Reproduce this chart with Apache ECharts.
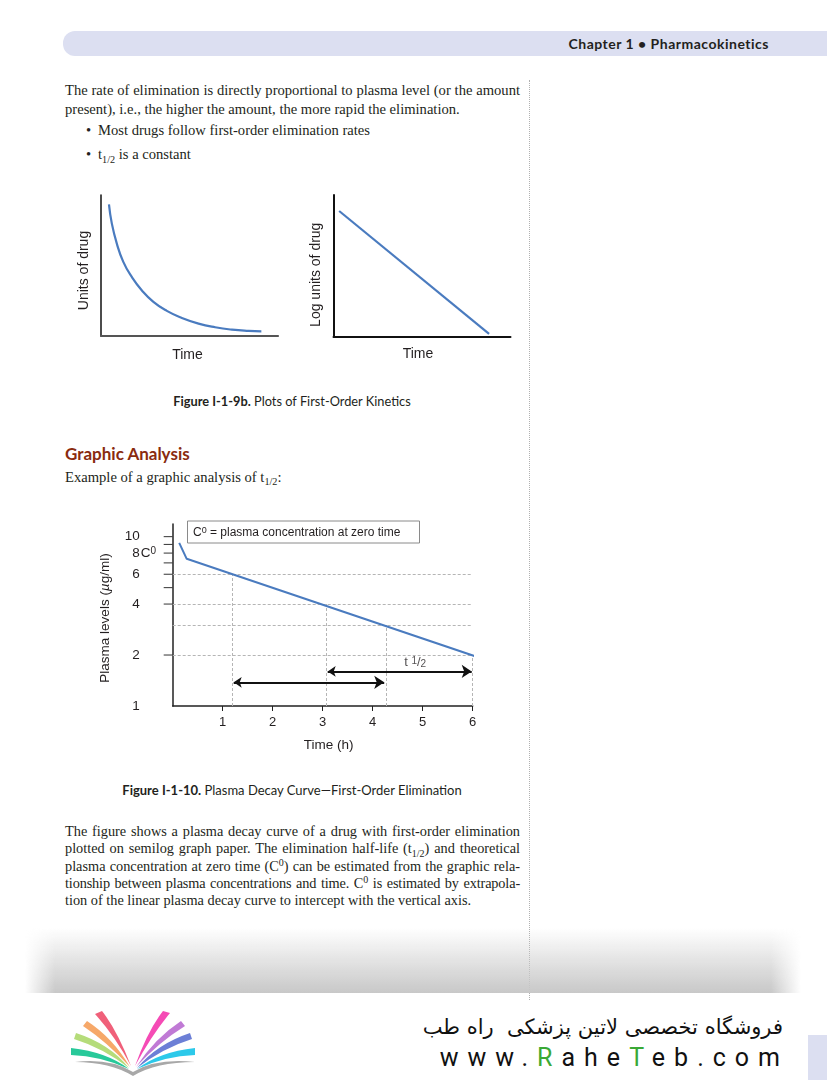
<!DOCTYPE html>
<html>
<head>
<meta charset="utf-8">
<script src="https://cdn.jsdelivr.net/npm/echarts@6/dist/echarts.min.js"></script>
<style>
html,body{margin:0;padding:0;background:#fff;width:827px;height:1080px;overflow:hidden;}
#page{position:relative;width:827px;height:1080px;}
.abs{position:absolute;white-space:nowrap;}
.serif{font-family:"Liberation Serif","DejaVu Serif",serif;color:#231f20;font-size:14.6px;line-height:17px;}
.para{font-size:14.3px;}
.j{width:455px;text-align:justify;text-align-last:justify;}
.sans{font-family:Lato,"Liberation Sans",sans-serif;color:#231f20;}
sub,sup{font-size:70%;line-height:0;position:relative;vertical-align:baseline;}
sub{top:0.35em;}
sup{top:-0.5em;}
#chart{position:absolute;left:0;top:0;width:827px;height:1080px;}
</style>
</head>
<body>
<div id="page">
  <div class="abs" style="left:63px;top:31px;width:764px;height:25px;background:#dcdff1;border-radius:12px 0 0 12px;"></div>
  <div class="abs sans" style="right:58px;top:35px;font-size:14px;letter-spacing:0.5px;font-weight:700;line-height:18px;">Chapter 1 &#8226; Pharmacokinetics</div>

  <div class="abs" style="left:529px;top:80px;height:920px;border-left:1px dotted #b0b0b0;"></div>

  <div class="abs serif j" style="left:65px;top:81.5px;">The rate of elimination is directly proportional to plasma level (or the amount</div>
  <div class="abs serif" style="left:65px;top:100.5px;">present), i.e., the higher the amount, the more rapid the elimination.</div>
  <div class="abs serif" style="left:86px;top:121.5px;">&#8226;</div>
  <div class="abs serif" style="left:98px;top:121.5px;">Most drugs follow first-order elimination rates</div>
  <div class="abs serif" style="left:86px;top:146px;">&#8226;</div>
  <div class="abs serif" style="left:98px;top:146px;">t<sub>1/2</sub> is a constant</div>

  <div class="abs sans" style="left:0;width:584px;text-align:center;top:392px;font-size:12.8px;line-height:18px;"><b>Figure I-1-9b.</b> Plots of First-Order Kinetics</div>

  <div class="abs sans" style="left:65px;top:443px;font-size:17px;font-weight:700;color:#8a2b0f;line-height:22px;">Graphic Analysis</div>
  <div class="abs serif" style="left:65px;top:468.5px;">Example of a graphic analysis of t<sub>1/2</sub>:</div>

  <div class="abs sans" style="left:0;width:584px;text-align:center;top:781px;font-size:13px;line-height:18px;"><b>Figure I-1-10.</b> Plasma Decay Curve&#8212;First-Order Elimination</div>

  <div class="abs serif para j" style="left:65px;top:822.5px;">The figure shows a plasma decay curve of a drug with first-order elimination</div>
  <div class="abs serif para j" style="left:65px;top:840px;">plotted on semilog graph paper. The elimination half-life (t<sub>1/2</sub>) and theoretical</div>
  <div class="abs serif para j" style="left:65px;top:857.5px;">plasma concentration at zero time (C<sup>0</sup>) can be estimated from the graphic rela-</div>
  <div class="abs serif para j" style="left:65px;top:875px;letter-spacing:-0.15px;">tionship between plasma concentrations and time. C<sup>0</sup> is estimated by extrapola-</div>
  <div class="abs serif para" style="left:65px;top:892px;">tion of the linear plasma decay curve to intercept with the vertical axis.</div>

  <div class="abs" style="left:25px;top:928px;width:776px;height:65px;background:linear-gradient(to bottom,rgba(255,255,255,0),rgba(200,200,200,1));-webkit-mask-image:linear-gradient(to right,transparent,#000 30px,#000 746px,transparent);"></div>

  <svg class="abs" style="left:55px;top:1000px;" width="160" height="80" viewBox="0 0 160 80">
    <path d="M40,14 L47,11 Q62,30 76,66 Q60,36 40,14 Z" fill="#f0607a"/>
    <path d="M28,26 L32,21 Q58,38 75,67 Q52,42 28,26 Z" fill="#f6a869"/>
    <path d="M19,39 L21,33 Q55,44 74,68 Q48,48 19,39 Z" fill="#b5dc7a"/>
    <path d="M16,55 L16,48 Q52,52 74,69 Q46,56 16,55 Z" fill="#28c99a"/>
    <path d="M115,13 L108,11 Q93,30 80,66 Q96,36 115,13 Z" fill="#f54bb5"/>
    <path d="M130,26 L126,21 Q100,38 81,67 Q104,42 130,26 Z" fill="#c07ad5"/>
    <path d="M137,39 L135,33 Q102,44 82,68 Q108,48 137,39 Z" fill="#6c7fd6"/>
    <path d="M140,55 L140,48 Q104,52 82,69 Q110,56 140,55 Z" fill="#2cc9ea"/>
    <path d="M20,62 Q55,58 78,72 Q101,58 140,62 Q101,62 78,76 Q55,62 20,62 Z" fill="#a8a8a8"/>
  </svg>

  <div class="abs" style="right:44px;top:1012px;font-family:'DejaVu Sans',sans-serif;font-size:21px;line-height:30px;color:#111;direction:rtl;">فروشگاه تخصصی لاتین پزشکی&#160; راه طب</div>
  <div class="abs" style="right:38px;top:1042px;font-family:Roboto,'DejaVu Sans',sans-serif;font-size:25px;line-height:32px;letter-spacing:9px;color:#111;">www.<span style="color:#3aa935">R</span>ahe<span style="color:#3aa935">T</span>eb.com</div>
  <div class="abs" style="left:808px;top:1035px;width:19px;height:45px;background:#dcdff1;"></div>

  <div id="chart"></div>
</div>
<script>
// ---- Figure I-1-9b (left): units of drug vs time ----
const decayTime  = [0.45, 0.61, 0.89, 1.26, 1.74, 2.30, 2.96, 3.72, 4.57, 5.51, 6.45, 7.40, 8.34, 9.06];
const decayUnits = [9.34, 7.99, 6.57, 5.26, 4.19, 3.25, 2.42, 1.78, 1.28, 0.88, 0.62, 0.45, 0.36, 0.33];
// ---- Figure I-1-9b (right): log units of drug vs time ----
const logTime  = [0.32, 8.79];
const logUnits = [8.87, 0.19];
// ---- Figure I-1-10: plasma decay curve (semilog) ----
const plasmaTime  = [0.13, 0.28, 6.2];
const plasmaLevel = [9.2, 7.4, 1.9];
const xTickValues = [1, 2, 3, 4, 5, 6];
const yLabelValues = [1, 2, 4, 6, 8, 10];
const yLabelText   = ['1', '2', '4', '6', '8', '10'];
const yTickValues  = [2, 4, 5, 6, 7, 8, 9, 10];
const c0Level = 8;
const guideLevels = [6, 4, 3, 2];          // horizontal dashed lines
const guideTimes  = [1.2, 3.07, 4.27, 6];  // vertical dashed lines (down from matching level)
const arrowFrom  = [1.22, 3.1];
const arrowTo    = [4.23, 5.98];
const arrowLevel = [1.38, 1.6];
const halfLifeLabelPos = [4.85, 1.8];

const FONT = '"Liberation Sans", Arial, sans-serif';
const INK = '#231f20';
const BLUE = '#4a7bbf';
const nameStyle = {fontFamily: FONT, fontSize: 14, color: INK};

const chart = echarts.init(document.getElementById('chart'), null, {renderer: 'canvas', width: 827, height: 1080});

const plainAxis = (extra) => Object.assign({
  type: 'value', min: 0, max: 10,
  axisTick: {show: false}, axisLabel: {show: false}, splitLine: {show: false},
  nameLocation: 'middle', nameTextStyle: nameStyle
}, extra);

const option = {
  animation: false,
  backgroundColor: 'transparent',
  textStyle: {fontFamily: FONT},
  grid: [
    {left: 101, top: 195, width: 177, height: 141},
    {left: 333.5, top: 195, width: 177, height: 141.5},
    {left: 172.7, top: 524, width: 300, height: 182}
  ],
  xAxis: [
    plainAxis({gridIndex: 0, name: 'Time', nameGap: 12, nameTextStyle: Object.assign({}, nameStyle, {padding: [0, 4, 0, 0]}), axisLine: {lineStyle: {color: '#555', width: 2.2}}}),
    plainAxis({gridIndex: 1, name: 'Time', nameGap: 11, nameTextStyle: Object.assign({}, nameStyle, {padding: [0, 8, 0, 0]}), axisLine: {lineStyle: {color: '#111', width: 2}}}),
    {
      gridIndex: 2, type: 'value', min: 0, max: 6, interval: 1,
      name: 'Time (h)', nameLocation: 'middle', nameGap: 32,
      nameTextStyle: {fontFamily: FONT, fontSize: 13.5, color: INK, padding: [0, 0, 0, 12]},
      axisLine: {lineStyle: {color: '#222', width: 1.5}},
      axisTick: {show: true, customValues: xTickValues, length: 5, lineStyle: {color: '#222', width: 1}},
      axisLabel: {customValues: xTickValues, margin: 10, fontSize: 13, color: INK, fontFamily: FONT},
      splitLine: {show: false}
    }
  ],
  yAxis: [
    plainAxis({gridIndex: 0, name: 'Units of drug', nameGap: 10, nameTextStyle: Object.assign({}, nameStyle, {padding: [0, 10, 0, 0]}), axisLine: {lineStyle: {color: '#111', width: 1.5}}}),
    plainAxis({gridIndex: 1, name: 'Log units of drug', nameGap: 10, nameTextStyle: Object.assign({}, nameStyle, {padding: [0, 18, 0, 0]}), axisLine: {lineStyle: {color: '#111', width: 2}}}),
    {
      gridIndex: 2, type: 'log', logBase: 10, min: 1, max: 11.88,
      name: 'Plasma levels ({i|µ}g/ml)', nameLocation: 'middle', nameGap: 60,
      nameTextStyle: {fontFamily: FONT, fontSize: 13.5, color: INK, padding: [0, 6, 0, 0],
        rich: {i: {fontFamily: FONT, fontSize: 13.5, fontStyle: 'italic', color: INK}}},
      axisLine: {lineStyle: {color: '#222', width: 1.5}},
      axisTick: {show: false}, axisLabel: {show: false}, splitLine: {show: false}
    }
  ],
  graphic: [
    {type: 'rect', shape: {x: 187.5, y: 521, width: 232, height: 22}, style: {fill: '#fff', stroke: '#8a8a8a', lineWidth: 1}, z: 1},
    {type: 'text', x: 193, y: 532.5, z: 2, style: {
      text: 'C{s|0} = plasma concentration at zero time', font: '12px ' + FONT, fill: INK, verticalAlign: 'middle',
      rich: {s: {fontSize: 9, verticalAlign: 'top', fill: INK, fontFamily: FONT}}
    }}
  ],
  series: [
    {
      type: 'line', xAxisIndex: 0, yAxisIndex: 0, smooth: 0.5, showSymbol: false, silent: true,
      lineStyle: {color: BLUE, width: 2.2},
      data: decayTime.map((t, i) => [t, decayUnits[i]])
    },
    {
      type: 'line', xAxisIndex: 1, yAxisIndex: 1, showSymbol: false, silent: true,
      lineStyle: {color: BLUE, width: 2.2},
      data: logTime.map((t, i) => [t, logUnits[i]])
    },
    {
      type: 'line', xAxisIndex: 2, yAxisIndex: 2, showSymbol: false, silent: true, z: 3,
      lineStyle: {color: BLUE, width: 2},
      data: plasmaTime.map((t, i) => [t, plasmaLevel[i]]),
      markLine: {
        silent: true, symbol: ['none', 'none'], label: {show: false}, z: 1,
        lineStyle: {type: [3, 2], color: '#b5b5b5', width: 1},
        data: guideLevels.map(v => [{coord: [0, v]}, {coord: [6, v]}])
          .concat(guideTimes.map((t, i) => [{coord: [t, 1]}, {coord: [t, guideLevels[i]]}]))
      }
    },
    {
      type: 'lines', coordinateSystem: 'cartesian2d', xAxisIndex: 2, yAxisIndex: 2, silent: true, z: 4,
      symbol: ['arrow', 'arrow'], symbolSize: [8, 10],
      lineStyle: {color: '#111', width: 2, opacity: 1},
      data: arrowFrom.map((f, i) => ({coords: [[f, arrowLevel[i]], [arrowTo[i], arrowLevel[i]]]}))
    },
    {
      type: 'custom', xAxisIndex: 2, yAxisIndex: 2, silent: true, clip: false,
      data: yTickValues.map(v => [0, v]),
      renderItem: (params, api) => {
        const p = api.coord([api.value(0), api.value(1)]);
        return {type: 'line', shape: {x1: p[0] - 9, y1: p[1], x2: p[0], y2: p[1]}, style: {stroke: '#333', lineWidth: 1}};
      }
    },
    {
      type: 'custom', xAxisIndex: 2, yAxisIndex: 2, silent: true, clip: false,
      data: yLabelValues.map(v => [0, v]),
      renderItem: (params, api) => {
        const p = api.coord([api.value(0), api.value(1)]);
        return {type: 'text', x: p[0] - 33, y: p[1], style: {
          text: yLabelText[params.dataIndex], align: 'right', verticalAlign: 'middle',
          font: '13.5px ' + FONT, fill: INK}};
      }
    },
    {
      type: 'custom', xAxisIndex: 2, yAxisIndex: 2, silent: true, clip: false,
      data: [[0, c0Level]],
      renderItem: (params, api) => {
        const p = api.coord([api.value(0), api.value(1)]);
        return {type: 'text', x: p[0] - 32, y: p[1], style: {
          text: 'C{s|0}', align: 'left', verticalAlign: 'middle', font: '13.5px ' + FONT, fill: INK,
          rich: {s: {fontSize: 10, verticalAlign: 'top', fill: INK, fontFamily: FONT}}}};
      }
    },
    {
      type: 'scatter', xAxisIndex: 2, yAxisIndex: 2, silent: true, symbolSize: 0,
      data: [halfLifeLabelPos],
      label: {
        show: true, position: 'inside', formatter: 't {a|1}/{b|2}', fontSize: 13, color: INK, fontFamily: FONT,
        rich: {a: {fontSize: 10, verticalAlign: 'top', color: INK, fontFamily: FONT},
               b: {fontSize: 10, verticalAlign: 'bottom', color: INK, fontFamily: FONT}}
      }
    }
  ]
};
chart.setOption(option);
</script>
</body>
</html>
